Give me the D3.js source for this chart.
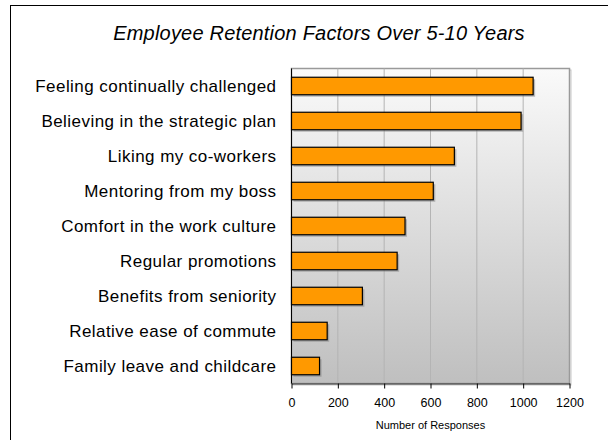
<!DOCTYPE html>
<html>
<head>
<meta charset="utf-8">
<script src="https://cdn.jsdelivr.net/npm/d3@7"></script>
<style>
  body { margin: 0; background: #fff; }
  svg { display: block; font-family: "Liberation Sans", Arial, sans-serif; }
</style>
</head>
<body>
<div id="chart"></div>
<script>
// Chart data
const categories = [
    "Feeling continually challenged",
    "Believing in the strategic plan",
    "Liking my co-workers",
    "Mentoring from my boss",
    "Comfort in the work culture",
    "Regular promotions",
    "Benefits from seniority",
    "Relative ease of commute",
    "Family leave and childcare"
];
const responses = [1043, 991, 703, 612, 490, 456, 306, 154, 121];
const xTicks = [0, 200, 400, 600, 800, 1000, 1200];

const W = 608, H = 440;
const margin = { top: 68.5, left: 291.5, bottom: 56.5, right: 38.5 };
const width = W - margin.left - margin.right;
const height = H - margin.top - margin.bottom;

const svg = d3.select("#chart").append("svg")
    .attr("width", W)
    .attr("height", H);

// Outer frame (runs off right and bottom edges)
svg.append("rect")
    .attr("x", 10.5).attr("y", 5.5)
    .attr("width", 640).attr("height", 480)
    .attr("fill", "#fff")
    .attr("stroke", "#000")
    .attr("stroke-width", 1);

// Title
svg.append("text")
    .attr("x", 319).attr("y", 40)
    .attr("text-anchor", "middle")
    .attr("font-size", "20px")
    .attr("letter-spacing", "0.2px")
    .attr("font-style", "italic")
    .attr("fill", "#000")
    .text("Employee Retention Factors Over 5-10 Years");

const defs = svg.append("defs");
const grad = defs.append("linearGradient")
    .attr("id", "bg")
    .attr("x1", 0).attr("y1", 0).attr("x2", 0).attr("y2", 1);
grad.append("stop").attr("offset", "0%").attr("stop-color", "#fafafa");
grad.append("stop").attr("offset", "100%").attr("stop-color", "#bfbfbf");

const g = svg.append("g")
    .attr("transform", `translate(${margin.left}, ${margin.top})`);

const x = d3.scaleLinear().domain([0, 1200]).range([0, width]);
const y = d3.scaleBand().domain(categories).range([0, height]).paddingInner(0.5).paddingOuter(0.25);

// Plot background and its shadowed border
g.append("rect")
    .attr("x", 1.5).attr("y", 1.5)
    .attr("width", width).attr("height", height)
    .attr("fill", "none")
    .attr("stroke", "#c8c8c8")
    .attr("stroke-width", 1);
g.append("rect")
    .attr("width", width).attr("height", height)
    .attr("fill", "url(#bg)")
    .attr("stroke", "#9a9a9a")
    .attr("stroke-width", 1.5);

// Grid lines
g.selectAll(".grid")
    .data(xTicks.slice(1, -1))
    .enter().append("line")
    .attr("x1", d => x(d)).attr("x2", d => x(d))
    .attr("y1", 0).attr("y2", height)
    .attr("stroke", "#b4b4b4")
    .attr("stroke-width", 1);

// Bars with drop shadow
g.selectAll(".shadow")
    .data(responses)
    .enter().append("rect")
    .attr("x", 2)
    .attr("y", (d, i) => y(categories[i]) + 2)
    .attr("width", d => x(d))
    .attr("height", y.bandwidth())
    .attr("fill", "#7d7d7d")
    .attr("opacity", 0.5);

g.selectAll(".bar")
    .data(responses)
    .enter().append("rect")
    .attr("x", 0)
    .attr("y", (d, i) => y(categories[i]))
    .attr("width", d => x(d))
    .attr("height", y.bandwidth())
    .attr("fill", "#ff9900")
    .attr("stroke", "#000")
    .attr("stroke-width", 1.2);

// Left axis line
g.append("line")
    .attr("x1", 0).attr("x2", 0)
    .attr("y1", 0).attr("y2", height)
    .attr("stroke", "#000");

// Category labels
g.selectAll(".label")
    .data(categories)
    .enter().append("text")
    .attr("x", -15)
    .attr("y", d => y(d) + y.bandwidth() / 2)
    .attr("dy", "0.35em")
    .attr("text-anchor", "end")
    .attr("font-size", "17px")
    .attr("letter-spacing", "0.45px")
    .attr("fill", "#000")
    .text(d => d);

// Bottom axis
const xAxis = d3.axisBottom(x)
    .tickValues(xTicks)
    .tickFormat(d3.format("d"))
    .tickSize(5).tickSizeOuter(0).tickPadding(10);
const ax = g.append("g")
    .attr("transform", `translate(0, ${height})`)
    .call(xAxis);
ax.select(".domain").attr("stroke", "#333");
ax.selectAll(".tick line").attr("stroke", "#000");
ax.selectAll("text")
    .attr("font-size", "12.5px")
    .attr("font-family", "Liberation Sans, Arial, sans-serif")
    .attr("fill", "#000");

// Axis title
g.append("text")
    .attr("x", width / 2)
    .attr("y", height + 45)
    .attr("text-anchor", "middle")
    .attr("font-size", "11px")
    .attr("fill", "#000")
    .text("Number of Responses");
</script>
</body>
</html>
